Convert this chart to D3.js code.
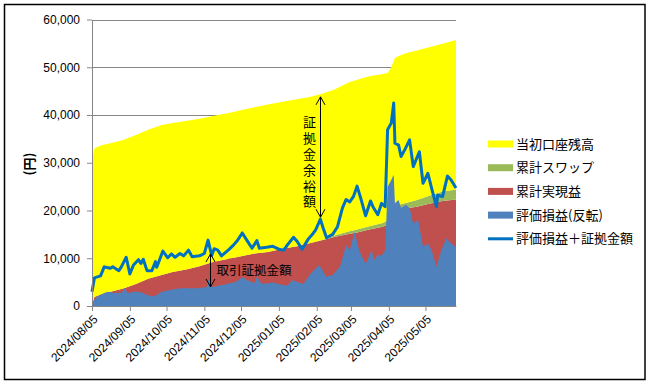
<!DOCTYPE html>
<html>
<head>
<meta charset="utf-8">
<script src="https://cdn.jsdelivr.net/npm/d3@7"></script>
<style>
  body { margin: 0; background: #fff; }
  text { font-family: "Liberation Sans", Arial, sans-serif; }
  .jp { font-family: "Noto Sans CJK JP", sans-serif; }
</style>
</head>
<body>
<svg id="chart" width="653" height="384"></svg>
<script>
// stacked series: realized P/L, swap, initial balance (same dates)
const stackDates = ["2024-08-05","2024-08-07","2024-08-12","2024-08-20","2024-08-30","2024-09-10","2024-09-20",
  "2024-10-01","2024-10-10","2024-10-22","2024-11-01","2024-11-12","2024-11-25","2024-12-05","2024-12-16",
  "2024-12-27","2025-01-08","2025-01-20","2025-01-31","2025-02-10","2025-02-20","2025-03-03","2025-03-10",
  "2025-03-20","2025-03-31","2025-04-04","2025-04-07","2025-04-10","2025-04-18","2025-04-28","2025-05-08",
  "2025-05-19","2025-05-30"];
const realized = [300,1900,2400,3000,3600,4600,5700,6500,7100,7700,8300,9200,9900,10400,11000,11300,12000,
  12500,13200,13800,14500,15100,15400,16000,16600,17000,18000,20000,20400,20800,21400,22000,22300];
const swap = [0,0,0,0,0,0,0,0,0,0,0,0,0,0,0,0,0,0,0,100,300,500,600,700,800,900,900,1000,1100,1400,1700,2000,2100];
const initialBalance = [30300,31100,31200,31100,31100,31200,31200,31400,31200,31100,30900,30600,30500,30600,
  30600,30900,30800,30800,30600,30600,30600,31200,31400,31400,31200,30900,31100,31000,31400,31300,31100,30900,31300];

// unrealized P/L (inverted)
const evalDates = ["2024-08-05","2024-08-09","2024-08-15","2024-08-18","2024-08-24","2024-08-29","2024-09-01",
  "2024-09-03","2024-09-09","2024-09-13","2024-09-19","2024-09-25","2024-10-01","2024-10-09","2024-10-16",
  "2024-10-23","2024-11-01","2024-11-07","2024-11-08","2024-11-11","2024-11-20","2024-12-01","2024-12-07",
  "2024-12-09","2024-12-16","2024-12-18","2024-12-22","2024-12-31","2025-01-08","2025-01-12","2025-01-16",
  "2025-01-25","2025-01-31","2025-02-07","2025-02-13","2025-02-18","2025-02-24","2025-03-01","2025-03-04",
  "2025-03-08","2025-03-12","2025-03-17","2025-03-22","2025-03-24","2025-03-27","2025-03-30","2025-04-02",
  "2025-04-04","2025-04-07","2025-04-09","2025-04-10","2025-04-13","2025-04-15","2025-04-19","2025-04-22",
  "2025-04-25","2025-04-29","2025-05-03","2025-05-07","2025-05-10","2025-05-14","2025-05-18","2025-05-22",
  "2025-05-26","2025-05-30"];
const evalLoss = [500,1950,2700,3000,2700,2700,3700,2700,3000,3000,2300,2000,3000,3400,3700,3700,3700,4000,
  5600,4000,4400,5100,6100,5500,4800,6100,4600,4900,4400,4300,5400,4600,6800,8600,6100,6500,8200,12800,11700,
  15500,11400,8800,11700,9600,10700,10500,11700,25000,26400,27500,21500,22200,20500,21200,20500,17300,18000,
  12400,13100,11700,8200,11700,14200,13100,12400];

// unrealized P/L + margin
const lineDates = ["2024-08-05","2024-08-07","2024-08-12","2024-08-15","2024-08-20","2024-08-22","2024-08-27",
  "2024-08-29","2024-09-02","2024-09-05","2024-09-08","2024-09-12","2024-09-14","2024-09-16","2024-09-19",
  "2024-09-23","2024-09-26","2024-09-27","2024-10-02","2024-10-06","2024-10-09","2024-10-12","2024-10-16",
  "2024-10-19","2024-10-23","2024-10-26","2024-11-01","2024-11-05","2024-11-08","2024-11-11","2024-11-13",
  "2024-11-16","2024-11-19","2024-11-25","2024-11-29","2024-12-02","2024-12-06","2024-12-10","2024-12-14",
  "2024-12-18","2024-12-20","2024-12-26","2024-12-31","2025-01-05","2025-01-09","2025-01-12","2025-01-17",
  "2025-01-20","2025-01-24","2025-01-29","2025-02-02","2025-02-04","2025-02-08","2025-02-10","2025-02-13",
  "2025-02-18","2025-02-22","2025-02-26","2025-03-01","2025-03-04","2025-03-07","2025-03-10","2025-03-13",
  "2025-03-17","2025-03-21","2025-03-23","2025-03-27","2025-03-30","2025-04-02","2025-04-04","2025-04-07",
  "2025-04-09","2025-04-10","2025-04-13","2025-04-15","2025-04-18","2025-04-22","2025-04-25","2025-04-30",
  "2025-05-03","2025-05-07","2025-05-10","2025-05-14","2025-05-15","2025-05-19","2025-05-23","2025-05-26",
  "2025-05-30"];
const lineValues = [3000,5900,6300,8200,7900,8200,7400,8200,10200,6700,8600,9700,8900,9800,7400,7400,9300,8100,
  11500,10100,10900,10200,11000,10500,11700,10300,10500,11000,13800,10600,12000,11700,10500,11800,12800,13700,
  15300,13700,12100,13700,12100,12300,12500,11900,11700,12800,14400,13500,11900,14000,15200,15900,18200,16500,
  14300,15000,16600,20500,22300,21800,22900,25100,22600,18900,22000,20800,19100,21500,20800,36900,38300,42500,
  34100,33700,31300,32700,34800,29200,32300,25700,27800,24700,20800,23200,22900,27200,26400,24700];

const yTicks = [0,10000,20000,30000,40000,50000,60000];
const xTickLabels = ["2024/08/05","2024/09/05","2024/10/05","2024/11/05","2024/12/05","2025/01/05",
  "2025/02/05","2025/03/05","2025/04/05","2025/05/05"];
const legendLabels = ["当初口座残高","累計スワップ","累計実現益","評価損益(反転)","評価損益＋証拠金額"];
const legendColors = ["#FFFF00","#9BBB59","#C0504D","#4F81BD","#0070C0"];

// annotations: [date, lower value, upper value, label]
const annoFree = ["2025-02-08", 18600, 43800, "証拠金余裕額"];
const annoMargin = ["2024-11-10", 4000, 10900, "取引証拠金額"];

const parse = d3.timeParse("%Y-%m-%d");
const parseSlash = d3.timeParse("%Y/%m/%d");
const svg = d3.select("#chart");

const x = d3.scaleTime()
  .domain([parse(stackDates[0]), parse(stackDates[stackDates.length - 1])])
  .range([92, 456]);
const y = d3.scaleLinear().domain([0, 60000]).range([306, 19.5]);

// outer frame
svg.append("rect").attr("x", 4.5).attr("y", 4.5).attr("width", 640.5).attr("height", 375)
  .attr("fill", "#fff").attr("stroke", "#000").attr("stroke-width", 1.5);

// gridlines
svg.append("g").selectAll("line").data(yTicks.slice(1)).enter().append("line")
  .attr("x1", 92).attr("x2", 456)
  .attr("y1", d => Math.round(y(d)) + 0.5).attr("y2", d => Math.round(y(d)) + 0.5)
  .attr("stroke", "#868686");

// stacked areas
const rows = stackDates.map((d, i) => ({ date: parse(d), realized: realized[i], swap: swap[i], initial: initialBalance[i] }));
const stacked = d3.stack().keys(["realized", "swap", "initial"])(rows);
const stackColors = { realized: "#C0504D", swap: "#9BBB59", initial: "#FFFF00" };
const stackArea = d3.area()
  .x(d => x(d.data.date)).y0(d => y(d[0])).y1(d => y(d[1]));
svg.append("g").selectAll("path").data(stacked).enter().append("path")
  .attr("d", stackArea).attr("fill", d => stackColors[d.key]);

// unrealized area
const evalRows = evalDates.map((d, i) => ({ date: parse(d), v: evalLoss[i] }));
svg.append("path").datum(evalRows)
  .attr("fill", "#4F81BD")
  .attr("d", d3.area().x(d => x(d.date)).y0(y(0)).y1(d => y(d.v)));

// line
const lineRows = lineDates.map((d, i) => ({ date: parse(d), v: lineValues[i] }));
svg.append("path").datum(lineRows)
  .attr("fill", "none").attr("stroke", "#0070C0").attr("stroke-width", 3)
  .attr("stroke-linejoin", "round")
  .attr("d", d3.line().x(d => x(d.date)).y(d => y(d.v)));

// axes
const xAxis = d3.axisBottom(x)
  .tickValues(xTickLabels.map(parseSlash))
  .tickFormat(d3.timeFormat("%Y/%m/%d"))
  .tickSize(5).tickSizeOuter(0);
const gx = svg.append("g").attr("transform", "translate(0,306)").call(xAxis);
gx.selectAll("text")
  .attr("text-anchor", "end")
  .attr("x", 0).attr("y", 0).attr("dy", "0.35em")
  .attr("transform", "translate(3,11) rotate(-45)")
  .style("font-size", "12px").attr("fill", "#000");

const yAxis = d3.axisLeft(y).tickValues(yTicks).tickFormat(d3.format(","))
  .tickSize(5).tickPadding(7).tickSizeOuter(0);
const gy = svg.append("g").attr("transform", "translate(92,0)").call(yAxis);
gy.selectAll("text").style("font-size", "12px").attr("fill", "#000");

[gx, gy].forEach(g => {
  g.select(".domain").attr("stroke", "#868686");
  g.selectAll(".tick line").attr("stroke", "#868686");
});

// y axis title
svg.append("text").attr("class", "jp")
  .attr("transform", "translate(34,164) rotate(-90)")
  .attr("text-anchor", "middle")
  .style("font-size", "13px").style("font-weight", "bold")
  .text("(円)");

// annotation arrows
function arrow(a) {
  const ax = Math.round(x(parse(a[0]))) + 0.5;
  const y1 = y(a[2]), y2 = y(a[1]);
  const g = svg.append("g").attr("stroke", "#000").attr("fill", "none").attr("stroke-width", 1);
  g.append("line").attr("x1", ax).attr("x2", ax).attr("y1", y1).attr("y2", y2);
  g.append("path").attr("d", `M${ax - 4.5},${y1 + 8}L${ax},${y1}L${ax + 4.5},${y1 + 8}`);
  g.append("path").attr("d", `M${ax - 4.5},${y2 - 8}L${ax},${y2}L${ax + 4.5},${y2 - 8}`);
  return { ax, y1, y2 };
}
const a1 = arrow(annoFree);
svg.append("text").attr("class", "jp")
  .attr("x", a1.ax - 11).attr("y", (a1.y1 + a1.y2) / 2 - 41)
  .style("writing-mode", "vertical-rl")
  .style("letter-spacing", "2.8px")
  .style("font-size", "13px").text(annoFree[3]);

const a2 = arrow(annoMargin);
svg.append("text").attr("class", "jp")
  .attr("x", a2.ax + 6).attr("y", (a2.y1 + a2.y2) / 2).attr("dy", "0.36em")
  .style("font-size", "12.5px").text(annoMargin[3]);

// legend
const legend = svg.append("g").selectAll("g").data(legendLabels).enter().append("g")
  .attr("transform", (d, i) => `translate(488,${144 + i * 23.7})`);
legend.each(function (d, i) {
  const g = d3.select(this);
  if (i < 4) {
    g.append("rect").attr("x", 0).attr("y", -3.5).attr("width", 25).attr("height", 7).attr("fill", legendColors[i]);
  } else {
    g.append("line").attr("x1", 0).attr("x2", 25).attr("y1", 0).attr("y2", 0)
      .attr("stroke", legendColors[i]).attr("stroke-width", 3);
  }
  g.append("text").attr("class", "jp").attr("x", 28).attr("dy", "0.36em")
    .style("font-size", "13px").text(d);
});
</script>
</body>
</html>
